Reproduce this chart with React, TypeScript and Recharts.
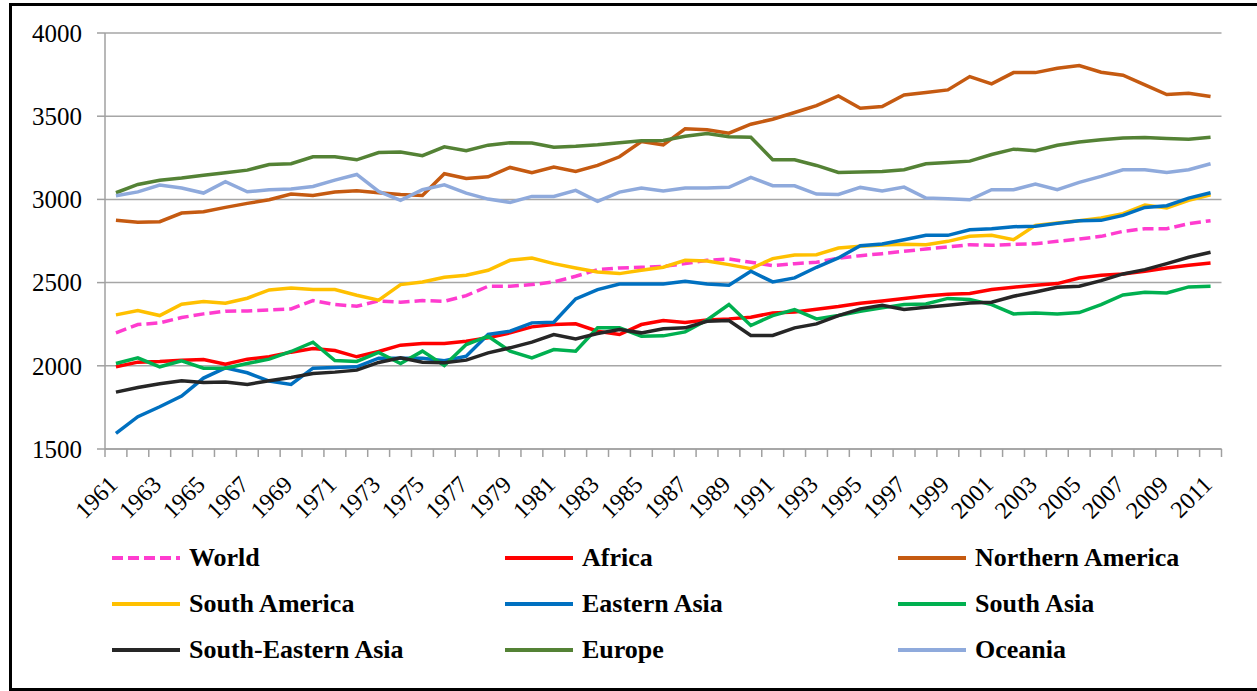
import { LineChart, Line, XAxis, YAxis, CartesianGrid } from 'recharts';

const YEARS = [
  1961, 1962, 1963, 1964, 1965, 1966, 1967, 1968, 1969, 1970, 1971, 1972, 1973,
  1974, 1975, 1976, 1977, 1978, 1979, 1980, 1981, 1982, 1983, 1984, 1985, 1986,
  1987, 1988, 1989, 1990, 1991, 1992, 1993, 1994, 1995, 1996, 1997, 1998, 1999,
  2000, 2001, 2002, 2003, 2004, 2005, 2006, 2007, 2008, 2009, 2010, 2011,
];

const LABEL_YEARS = [
  1961, 1963, 1965, 1967, 1969, 1971, 1973, 1975, 1977, 1979, 1981, 1983, 1985,
  1987, 1989, 1991, 1993, 1995, 1997, 1999, 2001, 2003, 2005, 2007, 2009, 2011,
];

const Y_TICKS = [1500, 2000, 2500, 3000, 3500, 4000];

const WORLD = [
  2198, 2248, 2258, 2290, 2312, 2328, 2330, 2336, 2342, 2392, 2368, 2358, 2390,
  2382, 2392, 2388, 2422, 2478, 2478, 2488, 2504, 2538, 2578, 2588, 2592, 2598,
  2614, 2634, 2642, 2622, 2602, 2614, 2622, 2646, 2662, 2674, 2688, 2702, 2714,
  2728, 2724, 2730, 2734, 2748, 2762, 2778, 2808, 2824, 2824, 2854, 2872,
];
const AFRICA = [
  1994, 2022, 2026, 2034, 2038, 2010, 2040, 2054, 2082, 2104, 2092, 2054, 2086,
  2124, 2134, 2134, 2148, 2168, 2198, 2234, 2248, 2252, 2208, 2188, 2248, 2272,
  2260, 2276, 2282, 2292, 2318, 2324, 2340, 2356, 2376, 2390, 2404, 2420, 2430,
  2434, 2458, 2472, 2484, 2494, 2528, 2544, 2552, 2568, 2588, 2604, 2618,
];
const NORTHERN_AMERICA = [
  2874, 2862, 2866, 2918, 2926, 2952, 2976, 2998, 3032, 3024, 3044, 3052, 3040,
  3030, 3024, 3154, 3126, 3136, 3192, 3160, 3194, 3168, 3204, 3256, 3348, 3328,
  3424, 3418, 3398, 3452, 3482, 3522, 3564, 3622, 3548, 3558, 3628, 3642, 3658,
  3738, 3694, 3762, 3762, 3788, 3804, 3764, 3746, 3688, 3630, 3638, 3618,
];
const SOUTH_AMERICA = [
  2306, 2332, 2302, 2370, 2386, 2376, 2406, 2456, 2468, 2458, 2458, 2424, 2394,
  2488, 2504, 2532, 2544, 2574, 2634, 2648, 2614, 2588, 2564, 2554, 2574, 2592,
  2634, 2630, 2608, 2584, 2644, 2666, 2668, 2708, 2718, 2726, 2730, 2728, 2748,
  2778, 2784, 2758, 2844, 2858, 2872, 2888, 2914, 2966, 2948, 2994, 3028,
];
const EASTERN_ASIA = [
  1594, 1694, 1754, 1818, 1926, 1988, 1958, 1908, 1888, 1986, 1990, 1994, 2046,
  2046, 2046, 2030, 2058, 2188, 2208, 2258, 2262, 2402, 2458, 2492, 2492, 2492,
  2508, 2492, 2484, 2568, 2504, 2528, 2592, 2648, 2722, 2732, 2758, 2784, 2784,
  2818, 2824, 2836, 2838, 2856, 2872, 2874, 2904, 2952, 2962, 3008, 3040,
];
const SOUTH_ASIA = [
  2014, 2048, 1994, 2030, 1986, 1986, 2014, 2040, 2086, 2142, 2032, 2026, 2080,
  2014, 2088, 2002, 2128, 2178, 2088, 2048, 2098, 2088, 2228, 2228, 2178, 2180,
  2204, 2275, 2368, 2242, 2302, 2338, 2282, 2302, 2328, 2348, 2368, 2372, 2405,
  2398, 2368, 2312, 2318, 2312, 2320, 2368, 2426, 2442, 2438, 2474, 2478,
];
const SOUTH_EASTERN_ASIA = [
  1842, 1870, 1892, 1910, 1900, 1902, 1888, 1910, 1930, 1954, 1962, 1974, 2020,
  2048, 2022, 2018, 2034, 2078, 2108, 2142, 2188, 2162, 2194, 2218, 2198, 2222,
  2228, 2268, 2272, 2182, 2182, 2228, 2252, 2302, 2342, 2364, 2338, 2352, 2364,
  2378, 2382, 2418, 2444, 2472, 2478, 2512, 2552, 2578, 2614, 2652, 2682,
];
const EUROPE = [
  3040, 3090, 3115, 3128, 3145, 3160, 3176, 3210, 3214, 3256, 3256, 3238, 3282,
  3285, 3263, 3316, 3293, 3326, 3340, 3339, 3313, 3319, 3328, 3340, 3352, 3354,
  3380, 3396, 3377, 3373, 3238, 3238, 3204, 3162, 3164, 3168, 3178, 3214, 3222,
  3230, 3270, 3302, 3292, 3325, 3345, 3358, 3369, 3372, 3366, 3362, 3374,
];
const OCEANIA = [
  3022, 3045, 3086, 3068, 3038, 3106, 3046, 3058, 3062, 3078, 3116, 3150, 3048,
  2994, 3058, 3088, 3038, 3002, 2982, 3018, 3018, 3054, 2988, 3044, 3068, 3050,
  3068, 3068, 3073, 3132, 3082, 3082, 3032, 3030, 3072, 3050, 3074, 3008, 3004,
  2998, 3058, 3058, 3092, 3058, 3102, 3138, 3178, 3178, 3162, 3178, 3214,
];

const SERIES = [
  { key: 'world', name: 'World', values: WORLD, color: '#ff3ccf', dash: '11 5' },
  { key: 'africa', name: 'Africa', values: AFRICA, color: '#ff0000' },
  { key: 'nam', name: 'Northern America', values: NORTHERN_AMERICA, color: '#c55a11' },
  { key: 'sam', name: 'South America', values: SOUTH_AMERICA, color: '#ffc000' },
  { key: 'eas', name: 'Eastern Asia', values: EASTERN_ASIA, color: '#0070c0' },
  { key: 'sas', name: 'South Asia', values: SOUTH_ASIA, color: '#00b050' },
  { key: 'sea', name: 'South-Eastern Asia', values: SOUTH_EASTERN_ASIA, color: '#262626' },
  { key: 'eur', name: 'Europe', values: EUROPE, color: '#548235' },
  { key: 'oce', name: 'Oceania', values: OCEANIA, color: '#8faadc' },
];

const data = YEARS.map((year, i) => {
  const row: Record<string, number> = { year };
  SERIES.forEach((s) => {
    row[s.key] = s.values[i];
  });
  return row;
});

// category boundaries, so tick marks sit between years like in Excel
const BOUNDARIES = [...YEARS.map((y) => y - 0.5), YEARS[YEARS.length - 1] + 0.5];

const W = 1257;
const H = 691;
const MARGIN = { top: 33, right: 35.5, left: 45, bottom: 182 };
const Y_AXIS_W = 60;
const PLOT_W = W - MARGIN.left - Y_AXIS_W - MARGIN.right;
const STEP = PLOT_W / YEARS.length;
const AXIS_GRAY = '#a0a0a0';
const SERIF = "'Liberation Serif', 'Times New Roman', Times, 'DejaVu Serif', serif";

function YearTick(props: any) {
  const { x, y, payload } = props;
  const year = payload.value + 0.5;
  if (!LABEL_YEARS.includes(year)) return null;
  const ax = x + STEP / 2 + 3;
  const ay = y + 27;
  return (
    <text
      x={ax}
      y={ay}
      textAnchor="end"
      transform={`rotate(-45 ${ax} ${ay})`}
      style={{ fontFamily: SERIF, fontSize: 24 }}
      fill="#000"
    >
      {year}
    </text>
  );
}

function YValueTick(props: any) {
  const { x, y, payload } = props;
  return (
    <text x={x} y={y} dy="0.35em" textAnchor="end" style={{ fontFamily: SERIF, fontSize: 25 }} fill="#000">
      {payload.value}
    </text>
  );
}

function ChartLegend() {
  return (
    <>
      {SERIES.map((s, i) => {
        const col = i % 3;
        const row = Math.floor(i / 3);
        const left = 112 + col * 393;
        const top = 558 + row * 46;
        return (
          <div
            key={s.key}
            style={{ position: 'absolute', left, top: top - 16, height: 32, display: 'flex', alignItems: 'center' }}
          >
            <svg width={68} height={8} style={{ display: 'block' }}>
              <line x1={0} y1={4} x2={68} y2={4} stroke={s.color} strokeWidth={4} strokeDasharray={s.dash} />
            </svg>
            <span
              style={{
                marginLeft: 9,
                fontFamily: SERIF,
                fontWeight: 'bold',
                fontSize: 26,
                color: '#000',
                whiteSpace: 'nowrap',
                lineHeight: '32px',
              }}
            >
              {s.name}
            </span>
          </div>
        );
      })}
    </>
  );
}

export default function App() {
  return (
    <div style={{ position: 'absolute', left: 0, top: 0, width: W, height: H, overflow: 'hidden', background: '#fff' }}>
      <div
        style={{
          position: 'absolute',
          left: 9,
          top: 3,
          width: 1270,
          height: 688,
          border: '3px solid #000',
          boxSizing: 'border-box',
        }}
      />
      <div style={{ position: 'absolute', left: 0, top: 0 }}>
        <LineChart width={W} height={H} data={data} margin={MARGIN}>
          <CartesianGrid vertical={false} stroke="#a6a6a6" strokeWidth={1.5} />
          <XAxis
            dataKey="year"
            type="number"
            domain={[1960.5, 2011.5]}
            ticks={BOUNDARIES}
            interval={0}
            allowDecimals
            height={60}
            tickSize={8}
            axisLine={{ stroke: AXIS_GRAY, strokeWidth: 1.5 }}
            tickLine={{ stroke: AXIS_GRAY, strokeWidth: 1.5 }}
            tick={<YearTick />}
          />
          <YAxis
            domain={[1500, 4000]}
            ticks={Y_TICKS}
            interval={0}
            width={Y_AXIS_W}
            tickSize={8}
            tickMargin={15}
            axisLine={{ stroke: AXIS_GRAY, strokeWidth: 1.5 }}
            tickLine={{ stroke: AXIS_GRAY, strokeWidth: 1.5 }}
            tick={<YValueTick />}
          />
          {SERIES.map((s) => (
            <Line
              key={s.key}
              dataKey={s.key}
              name={s.name}
              type="linear"
              stroke={s.color}
              strokeWidth={3.5}
              strokeDasharray={s.dash}
              dot={false}
              activeDot={false}
              isAnimationActive={false}
            />
          ))}
        </LineChart>
      </div>
      <ChartLegend />
    </div>
  );
}
